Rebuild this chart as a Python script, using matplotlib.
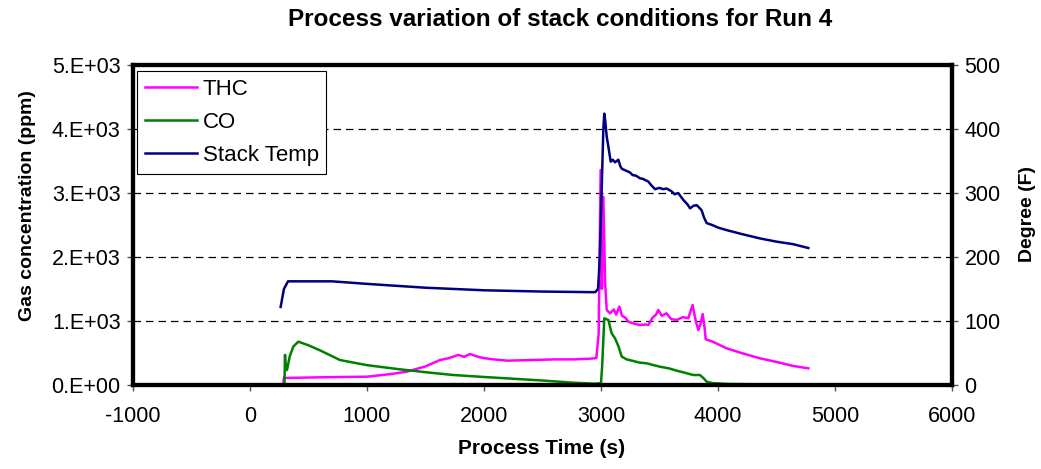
import matplotlib
matplotlib.use("Agg")
import matplotlib.pyplot as plt
from matplotlib.lines import Line2D

plt.rcParams['font.family'] = ['Liberation Sans', 'DejaVu Sans']

# Stack temperature (deg F) over process time (s)
temp_t = [262, 290, 325, 700, 1000, 1500, 2000, 2500, 2950, 2975, 2990, 3005, 3020, 3028,
          3035, 3049, 3065, 3083, 3100, 3120, 3148, 3165, 3177, 3200, 3225, 3248, 3270, 3300,
          3333, 3360, 3380, 3404, 3430, 3462, 3500, 3530, 3561, 3600, 3630, 3660, 3700, 3740,
          3761, 3790, 3818, 3840, 3860, 3880, 3903, 3950, 4000, 4074, 4200, 4359, 4500, 4644, 4772]
temp_v = [122, 150, 162, 162, 158, 152, 148, 146, 145, 150, 200, 300, 400, 424,
          415, 388, 370, 349, 352, 348, 352, 342, 338, 336, 334, 332, 328, 327,
          323, 322, 320, 318, 312, 306, 308, 306, 307, 303, 298, 300, 290, 282,
          276, 280, 281, 277, 273, 262, 253, 250, 246, 242, 236, 229, 224, 220, 214]

# Total hydrocarbons (ppm)
thc_t = [285, 290, 300, 600, 1000, 1200, 1339, 1500, 1624, 1700, 1780, 1830, 1880, 1950, 2000,
         2080, 2200, 2400, 2600, 2763, 2900, 2960, 2980, 2997, 3008, 3020, 3035, 3049, 3077,
         3110, 3130, 3157, 3180, 3210, 3234, 3280, 3333, 3380, 3404, 3440, 3470, 3490, 3520,
         3560, 3600, 3647, 3700, 3746, 3783, 3810, 3832, 3850, 3869, 3885, 3895, 3950, 4074,
         4200, 4359, 4500, 4644, 4772]
thc_v = [0, 120, 110, 120, 130, 170, 208, 290, 390, 420, 470, 440, 484, 440, 420,
         401, 380, 390, 400, 400, 410, 420, 800, 3360, 1500, 2940, 1600, 1172, 1120,
         1180, 1100, 1224, 1080, 1050, 990, 960, 938, 945, 938, 1050, 1100, 1172, 1080,
         1120, 1030, 1016, 1060, 1042, 1250, 1000, 859, 950, 1109, 900, 714, 680, 573,
         500, 417, 360, 297, 260]

# Carbon monoxide (ppm)
co_t = [285, 295, 299, 305, 316, 340, 370, 413, 500, 600, 769, 1000, 1282, 1500, 1738, 2000,
        2194, 2500, 2763, 2950, 3000, 3010, 3028, 3063, 3091, 3120, 3150, 3177, 3220, 3276,
        3330, 3390, 3450, 3504, 3580, 3647, 3720, 3789, 3846, 3880, 3903, 3950, 4100, 4500, 4772]
co_v = [0, 20, 470, 300, 234, 450, 600, 677, 620, 540, 390, 310, 245, 200, 156, 125,
        104, 70, 36, 20, 30, 300, 1042, 1016, 807, 729, 600, 443, 400, 375,
        350, 339, 310, 286, 260, 224, 190, 156, 156, 100, 52, 30, 15, 8, 5]

x_ticks = [-1000, 0, 1000, 2000, 3000, 4000, 5000, 6000]
ppm_ticks = [0, 1000, 2000, 3000, 4000, 5000]
ppm_labels = ['0.E+00', '1.E+03', '2.E+03', '3.E+03', '4.E+03', '5.E+03']
temp_ticks = [0, 100, 200, 300, 400, 500]

thc_color = '#FF00FF'
co_color = '#008000'
temp_color = '#000080'

W, H = 1041, 469
fig = plt.figure(figsize=(W / 100, H / 100), dpi=100)
ax = fig.add_axes([133 / W, 1 - 385 / H, (952 - 133) / W, (385 - 65) / H])
ax2 = ax.twinx()

lw = 1.8
ax.plot(thc_t, thc_v, color=thc_color, lw=lw, zorder=3)
ax.plot(co_t, co_v, color=co_color, lw=lw, zorder=3)
ax2.plot(temp_t, temp_v, color=temp_color, lw=lw, zorder=3)

ax.set_xlim(-1000, 6000)
ax.set_ylim(0, 5000)
ax2.set_ylim(0, 500)
ax.set_xticks(x_ticks)
ax.set_xticklabels([str(v) for v in x_ticks])
ax.set_yticks(ppm_ticks)
ax.set_yticklabels(ppm_labels)
ax2.set_yticks(temp_ticks)
ax2.set_yticklabels([str(v) for v in temp_ticks])

for y in ppm_ticks[1:-1]:
    ax.axhline(y, color='black', lw=0.9, linestyle=(0, (6, 4)), zorder=1)

for a in (ax, ax2):
    for s in a.spines.values():
        s.set_linewidth(3.0)
        s.set_color('black')
    a.tick_params(direction='out', length=4, width=1, color='#555555',
                  labelsize=15.5, pad=5)
ax.tick_params(axis='x', pad=11)

# axis titles
fig.text(542 / W, 1 - 454 / H, 'Process Time (s)', ha='center', va='baseline',
         fontsize=15, fontweight='bold')
fig.text(28 / W, 1 - 206 / H, 'Gas concentration (ppm)', ha='center', va='center',
         rotation=90, fontsize=14, fontweight='bold')
fig.text(1028 / W, 1 - 214 / H, 'Degree (F)', ha='center', va='center',
         rotation=90, fontsize=14, fontweight='bold')
fig.text(560 / W, 1 - 19 / H, 'Process variation of stack conditions for Run 4',
         ha='center', va='center', fontsize=17.5, fontweight='bold')

handles = [Line2D([], [], color=thc_color, lw=lw),
           Line2D([], [], color=co_color, lw=lw),
           Line2D([], [], color=temp_color, lw=lw)]
leg = ax2.legend(handles, ['THC', 'CO', 'Stack Temp'], loc='upper left',
                 bbox_to_anchor=((137 - 133) / 819, (385 - 71) / 320),
                 fontsize=16, frameon=True, fancybox=False, framealpha=1,
                 edgecolor='black', handlelength=2.35, handletextpad=0.25,
                 borderpad=0.35, labelspacing=0.55, borderaxespad=0)
leg.get_frame().set_linewidth(0.8)

fig.savefig('out.png', dpi=100)
